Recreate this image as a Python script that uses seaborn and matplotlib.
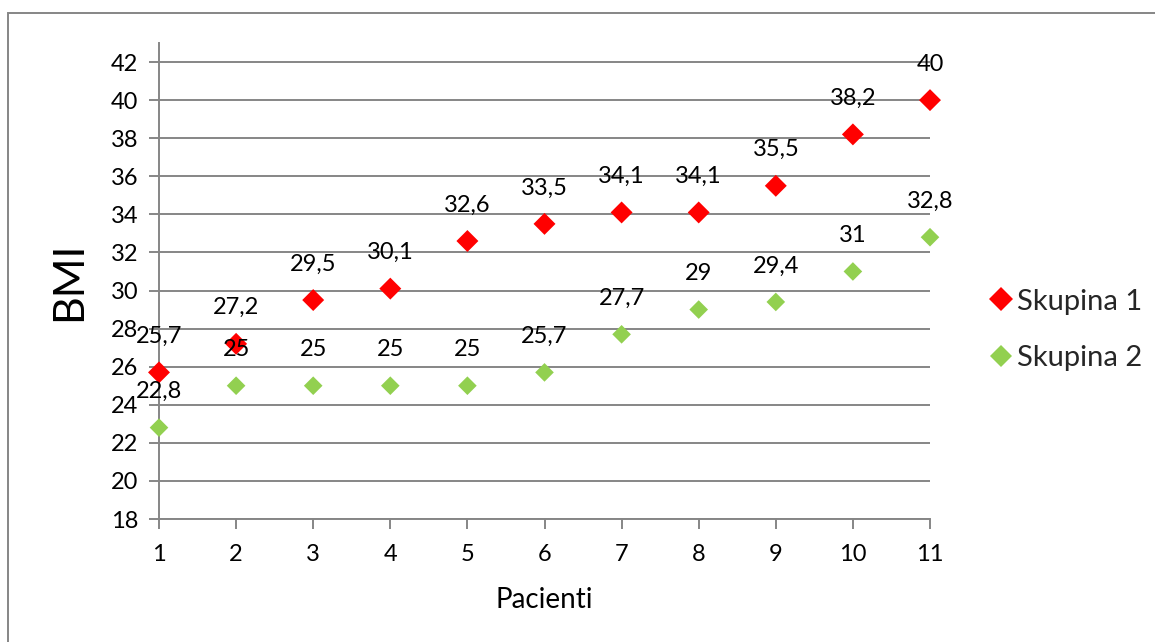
import matplotlib
matplotlib.use("Agg")
import matplotlib.pyplot as plt
import matplotlib.patches as mpatches
import seaborn as sns
import pandas as pd

pacienti = [1, 2, 3, 4, 5, 6, 7, 8, 9, 10, 11]
skupina_1 = [25.7, 27.2, 29.5, 30.1, 32.6, 33.5, 34.1, 34.1, 35.5, 38.2, 40]
skupina_2 = [22.8, 25, 25, 25, 25, 25.7, 27.7, 29, 29.4, 31, 32.8]
series_names = ["Skupina 1", "Skupina 2"]
y_ticks = list(range(18, 43, 2))

df = pd.DataFrame({
    "Pacienti": pacienti * 2,
    "BMI": skupina_1 + skupina_2,
    "Skupina": [series_names[0]] * len(pacienti) + [series_names[1]] * len(pacienti),
})

sns.set_theme(style="white")
plt.rcParams["font.family"] = ["Lato", "DejaVu Sans"]

GRID = "#868686"
palette = {series_names[0]: "#FF0000", series_names[1]: "#92D050"}
sizes = {series_names[0]: 125, series_names[1]: 90}

fig = plt.figure(figsize=(11.55, 6.42), dpi=100)
ax = fig.add_axes([159 / 1155, 1 - 519 / 642, (930 - 159) / 1155, (519 - 43) / 642])

sns.scatterplot(data=df, x="Pacienti", y="BMI", hue="Skupina", size="Skupina",
                sizes=sizes, palette=palette, marker="D", linewidth=0,
                ax=ax, legend=False, zorder=3, clip_on=False)

# value labels above each point
for name, vals in zip(series_names, [skupina_1, skupina_2]):
    for x, v in zip(pacienti, vals):
        txt = f"{v:g}".replace(".", ",")
        ax.annotate(txt, (x, v), xytext=(0, 36), textcoords="offset pixels",
                    ha="center", va="center", fontsize=17, color="black", zorder=4)

ax.set_xlim(1, 11)
ax.set_ylim(18, 43)
ax.set_xticks(pacienti)
ax.set_yticks(y_ticks)
ax.yaxis.grid(True, color=GRID, linewidth=1.4)
ax.xaxis.grid(False)
for side in ["top", "right"]:
    ax.spines[side].set_visible(False)
for side in ["left", "bottom"]:
    ax.spines[side].set_color(GRID)
    ax.spines[side].set_linewidth(1.4)
ax.tick_params(axis="both", which="major", direction="out", length=7, width=1.4,
               color=GRID, labelsize=17, labelcolor="black", left=True, bottom=True)
ax.tick_params(axis="y", pad=8)
ax.tick_params(axis="x", pad=11)
ax.set_xlabel("Pacienti", fontsize=20, color="black", labelpad=16)
ax.set_ylabel("BMI", fontsize=31, color="black", labelpad=16)

handles = [
    plt.Line2D([], [], marker="D", linestyle="", color=palette[series_names[0]],
               markersize=12.5, markeredgewidth=0),
    plt.Line2D([], [], marker="D", linestyle="", color=palette[series_names[1]],
               markersize=11, markeredgewidth=0),
]
fig.legend(handles, series_names, loc="center left", bbox_to_anchor=(978 / 1155, 1 - 330 / 642),
           frameon=False, fontsize=21, labelspacing=1.05, handlelength=0.8,
           handletextpad=0.15, borderaxespad=0)

# outer frame of the chart area
fig.patches.append(mpatches.Rectangle((8 / 1155, -0.1), 1.2, 1 - 13 / 642 + 0.1,
                                      transform=fig.transFigure, fill=False,
                                      edgecolor=GRID, linewidth=1.4, zorder=0))

fig.savefig("out.png", dpi=100)
